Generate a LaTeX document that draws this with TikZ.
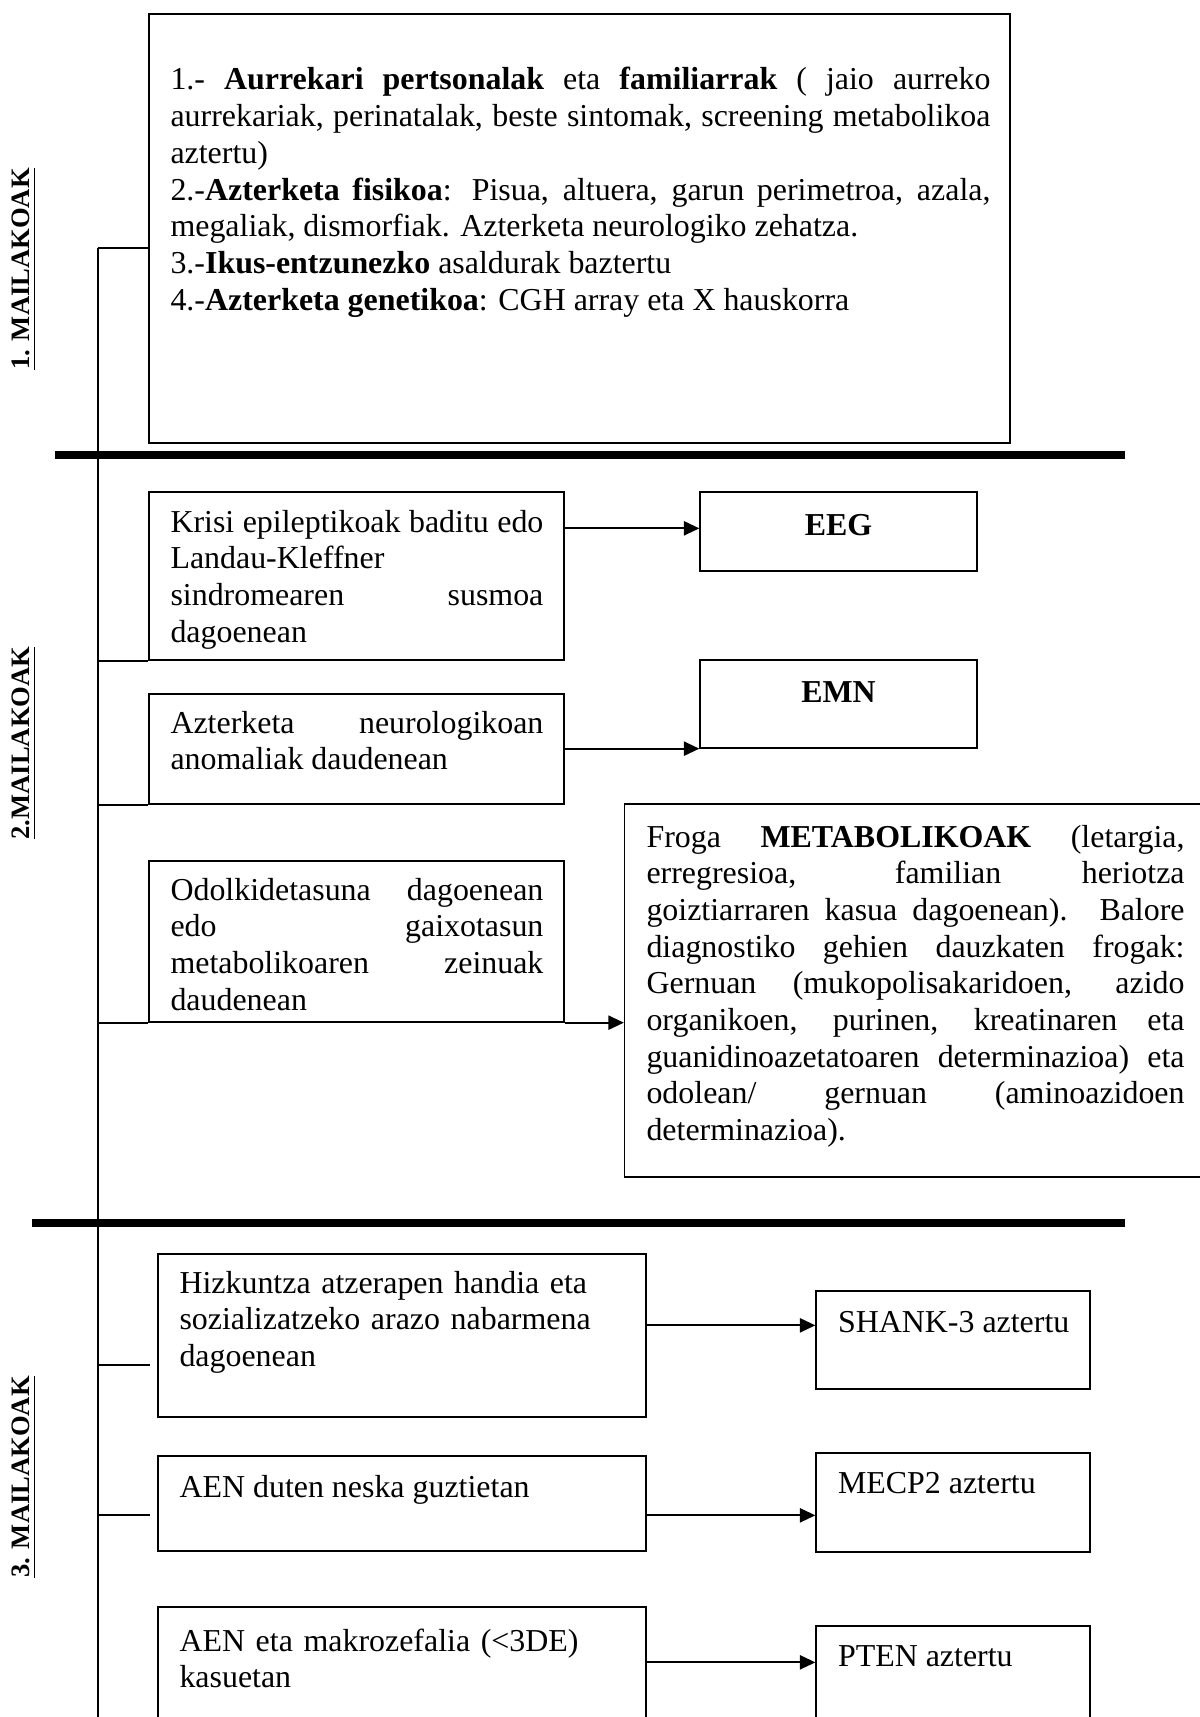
\documentclass[tikz,border=0pt]{standalone}
\usepackage{fontspec}
\setmainfont{Liberation Serif}
\usepackage{tikz}
\usetikzlibrary{arrows.meta, positioning, calc, fit}
\hyphenpenalty=10000
\exhyphenpenalty=10000
\tolerance=9999

\begin{document}
\begin{tikzpicture}[x=0.376pt, y=-0.376pt,
    box/.style={draw, line width=0.5pt, inner sep=0pt},
    txt/.style={anchor=base west, inner sep=0pt, font=\fontsize{12pt}{13.8pt}\selectfont},
    jtxt/.style={txt, text width=#1, align=justify},
    ltxt/.style={txt, text width=#1, align=left},
    lvl/.style={rotate=90, inner sep=0pt, font=\fontsize{10pt}{12pt}\selectfont\bfseries},
    link/.style={line width=0.75pt},
    arr/.style={line width=0.75pt, -{Triangle[length=5.8pt,width=5.3pt]}},
    divider/.style={line width=2.75pt}]
  \useasboundingbox (0,0) rectangle (1200,1717);
  \clip (0,0) rectangle (1200,1717);
  % level labels
  \node[lvl] (lvl1) at (24,269) {\underline{1. MAILAKOAK}};
  \node[lvl] (lvl2) at (24,743) {\underline{2.MAILAKOAK}};
  \node[lvl] (lvl3) at (24,1477) {\underline{3. MAILAKOAK}};
  % dividers
  \draw[divider] (55,455) -- (1125,455);
  \draw[divider] (32,1223) -- (1125,1223);
  % level 1
  \node[box, fit={(149,14) (1010,443)}] (b1) {};
  \node[jtxt=308.3pt] (b1t) at (170,90) {1.- \textbf{Aurrekari pertsonalak} eta \textbf{familiarrak} ( jaio aurreko\linebreak
    aurrekariak, perinatalak, beste sintomak, screening metabolikoa\linebreak aztertu)\par
    2.-\textbf{Azterketa fisikoa}: Pisua, altuera, garun perimetroa, azala,\linebreak
    megaliak, dismorfiak. Azterketa neurologiko zehatza.\par
    3.-\textbf{Ikus-entzunezko} asaldurak baztertu\par
    4.-\textbf{Azterketa genetikoa}: CGH array eta X hauskorra};
  % level 2
  \node[box, fit={(149,492) (564,660)}] (krisi) {};
  \node[jtxt=140.2pt] (krisit) at (170,532) {Krisi epileptikoak baditu edo\linebreak
    Landau-Kleffner\\ sindromearen susmoa\linebreak dagoenean};
  \node[box, fit={(700,492) (977,571)}] (eeg) {};
  \node[txt, anchor=base, font=\fontsize{12pt}{13.8pt}\selectfont\bfseries] (eegt) at (838.5,535) {EEG};
  \node[box, fit={(149,694) (564,804)}] (azt) {};
  \node[jtxt=140.2pt] (aztt) at (170,733) {Azterketa neurologikoan\linebreak anomaliak daudenean};
  \node[box, fit={(700,660) (977,748)}] (emn) {};
  \node[txt, anchor=base, font=\fontsize{12pt}{13.8pt}\selectfont\bfseries] (emnt) at (838.5,702) {EMN};
  \node[box, fit={(149,861) (564,1022)}] (odol) {};
  \node[jtxt=140.2pt] (odolt) at (170,900) {Odolkidetasuna dagoenean\linebreak
    edo gaixotasun\linebreak metabolikoaren zeinuak\linebreak daudenean};
  \node[box, fit={(624.5,804) (1215,1177)}] (froga) {};
  \node[jtxt=202.3pt] (frogat) at (646,847) {Froga \textbf{METABOLIKOAK} (letargia,\linebreak
    erregresioa, familian heriotza\linebreak
    goiztiarraren kasua dagoenean). Balore\linebreak
    diagnostiko gehien dauzkaten frogak:\linebreak
    Gernuan (mukopolisakaridoen, azido\linebreak
    organikoen, purinen, kreatinaren eta\linebreak
    guanidinoazetatoaren determinazioa) eta\linebreak
    odolean/ gernuan (aminoazidoen\linebreak
    determinazioa).};
  % level 3
  \node[box, fit={(158,1254) (646,1417)}] (hizk) {};
  \node[ltxt=175pt] (hizkt) at (179,1293) {Hizkuntza atzerapen handia eta\\
    sozializatzeko arazo nabarmena\\ dagoenean};
  \node[box, fit={(816,1291) (1090,1389)}] (shank) {};
  \node[txt] (shankt) at (837.5,1332) {SHANK-3 aztertu};
  \node[box, fit={(158,1456) (646,1551)}] (aen) {};
  \node[txt] (aent) at (179,1497) {AEN duten neska guztietan};
  \node[box, fit={(816,1453) (1090,1552)}] (mecp) {};
  \node[txt] (mecpt) at (837.5,1493) {MECP2 aztertu};
  \node[box, fit={(158,1607) (646,1760)}] (makro) {};
  \node[ltxt=175pt] (makrot) at (179,1651) {AEN eta makrozefalia (<3DE)\\ kasuetan};
  \node[box, fit={(816,1626) (1090,1760)}] (pten) {};
  \node[txt] (ptent) at (837.5,1666) {PTEN aztertu};
  % spine and stubs
  \coordinate (spt) at (98,248);
  \coordinate (spb) at (98,1760);
  \draw[link] (spt) -- (spb);
  \draw[link] (spt) -- (spt -| b1.west);
  \draw[link] (krisi.south west -| spt) -- (krisi.south west);
  \draw[link] (azt.south west -| spt) -- (azt.south west);
  \draw[link] (odol.south west -| spt) -- (odol.south west);
  \coordinate (hizkin) at ($(hizk.north west)+(0,112)$);
  \coordinate (aenin) at ($(aen.north west)+(0,60)$);
  \draw[link, shorten >=2.6pt] (hizkin -| spt) -- (hizkin);
  \draw[link, shorten >=2.6pt] (aenin -| spt) -- (aenin);
  % arrows
  \coordinate (eegin) at ($(eeg.north west)+(0,37)$);
  \coordinate (shankin) at ($(shank.north west)+(0,35)$);
  \coordinate (mecpin) at ($(mecp.north west)+(0,63)$);
  \coordinate (ptenin) at ($(pten.north west)+(0,37)$);
  \draw[arr] (krisi.east |- eegin) -- (eegin);
  \draw[arr] (azt.east |- emn.south west) -- (emn.south west);
  \draw[arr] (odol.south east) -- (odol.south east -| froga.west);
  \draw[arr] (hizk.east |- shankin) -- (shankin);
  \draw[arr] (aen.east |- mecpin) -- (mecpin);
  \draw[arr] (makro.east |- ptenin) -- (ptenin);
\end{tikzpicture}
\end{document}
